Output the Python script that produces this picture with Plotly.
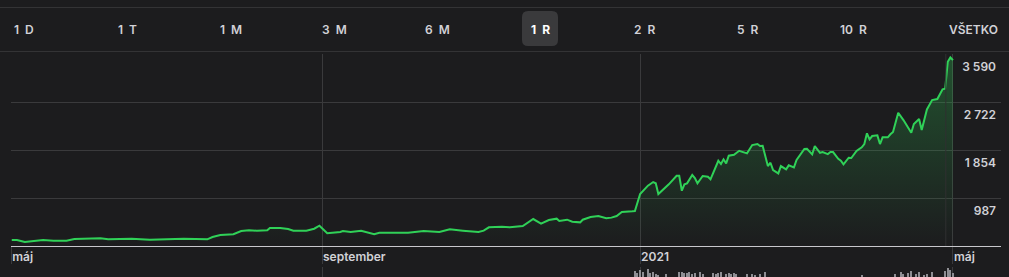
import plotly.graph_objects as go

# ---------------- data ----------------
dates = [
    "2020-05-05", "2020-05-07", "2020-05-10", "2020-05-13", "2020-05-17", "2020-05-21", "2020-05-26", "2020-05-29",
    "2020-06-01", "2020-06-08", "2020-06-11", "2020-06-20", "2020-06-27",
    "2020-07-04", "2020-07-10", "2020-07-19", "2020-07-21", "2020-07-24", "2020-07-29",
    "2020-08-01", "2020-08-04", "2020-08-07", "2020-08-11", "2020-08-12", "2020-08-16", "2020-08-19", "2020-08-21",
    "2020-08-26", "2020-08-29", "2020-08-31",
    "2020-09-03", "2020-09-08", "2020-09-09", "2020-09-12", "2020-09-16", "2020-09-21", "2020-09-23",
    "2020-10-04", "2020-10-10", "2020-10-16", "2020-10-20", "2020-10-25", "2020-10-31",
    "2020-11-02", "2020-11-04", "2020-11-09", "2020-11-12", "2020-11-17", "2020-11-19", "2020-11-21", "2020-11-24",
    "2020-11-27", "2020-11-30",
    "2020-12-01", "2020-12-04", "2020-12-06", "2020-12-09", "2020-12-10", "2020-12-13", "2020-12-16", "2020-12-19",
    "2020-12-21", "2020-12-23", "2020-12-25", "2020-12-29", "2020-12-30",
    "2021-01-01", "2021-01-04", "2021-01-06", "2021-01-07", "2021-01-08", "2021-01-10", "2021-01-12", "2021-01-15",
    "2021-01-16", "2021-01-17", "2021-01-18", "2021-01-19", "2021-01-21", "2021-01-22", "2021-01-23", "2021-01-25",
    "2021-01-27", "2021-01-28", "2021-01-29", "2021-01-31",
    "2021-02-01", "2021-02-02", "2021-02-03", "2021-02-04", "2021-02-06", "2021-02-08", "2021-02-11", "2021-02-13",
    "2021-02-15", "2021-02-16", "2021-02-17", "2021-02-19", "2021-02-20", "2021-02-21", "2021-02-23", "2021-02-24",
    "2021-02-26", "2021-02-27",
    "2021-03-01", "2021-03-02", "2021-03-05", "2021-03-06", "2021-03-08", "2021-03-09", "2021-03-11", "2021-03-12",
    "2021-03-14", "2021-03-15", "2021-03-16", "2021-03-18", "2021-03-19", "2021-03-20", "2021-03-22", "2021-03-23",
    "2021-03-25", "2021-03-27", "2021-03-28", "2021-03-29", "2021-03-30", "2021-03-31",
    "2021-04-02", "2021-04-03", "2021-04-04", "2021-04-06", "2021-04-07", "2021-04-08", "2021-04-10", "2021-04-12",
    "2021-04-15", "2021-04-16", "2021-04-18", "2021-04-19", "2021-04-21", "2021-04-23", "2021-04-25", "2021-04-27",
    "2021-04-28", "2021-04-29", "2021-04-30", "2021-05-01",
]
prices = [
    228, 228, 192, 210, 228, 215, 215, 246,
    251, 259, 240, 251, 233,
    240, 251, 240, 282, 318, 331,
    391, 403, 396, 403, 445, 445, 427, 396, 396, 432, 486,
    349, 372, 391, 372, 396, 331, 360,
    360, 391, 372, 421, 396, 372,
    396, 457, 468, 457, 481, 540, 607, 522, 589, 613,
    571, 595, 559, 547, 595, 644, 662, 620, 632, 662, 734, 746, 752,
    1059, 1210, 1276, 1253, 1059, 1144, 1235, 1390, 1390, 1119, 1235, 1253, 1403, 1349, 1253, 1385, 1372, 1325,
    1444, 1661,
    1602, 1687, 1614, 1752, 1770, 1842, 1795, 1945, 1963, 1927, 1932, 1565, 1625, 1493, 1433, 1565, 1506, 1578,
    1542, 1674, 1873, 1878, 1777, 1927, 1806, 1819, 1782, 1819, 1819, 1697, 1661, 1596, 1716, 1710, 1837, 1903,
    1963, 2157, 2048, 2108,
    2120, 1963, 2084, 2084, 2139, 2180, 2529, 2397, 2167, 2325, 2415, 2216, 2590, 2758, 2777, 2952, 2963, 3451,
    3530, 3482,
]

vol_dates = [
    "2020-12-30", "2020-12-31", "2021-01-01", "2021-01-02", "2021-01-04", "2021-01-05", "2021-01-06", "2021-01-07",
    "2021-01-08", "2021-01-11",
    "2021-01-16", "2021-01-17", "2021-01-18", "2021-01-19", "2021-01-20", "2021-01-21", "2021-01-22", "2021-01-24",
    "2021-01-25",
    "2021-01-29", "2021-01-30", "2021-01-31", "2021-02-01", "2021-02-03", "2021-02-04", "2021-02-05", "2021-02-06",
    "2021-02-07",
    "2021-02-11", "2021-02-13", "2021-02-14", "2021-02-16", "2021-02-18",
    "2021-03-27",
    "2021-04-09", "2021-04-11", "2021-04-12", "2021-04-14", "2021-04-15", "2021-04-17", "2021-04-18", "2021-04-20",
    "2021-04-21", "2021-04-23",
    "2021-04-28", "2021-04-29", "2021-04-30", "2021-05-01",
]
volumes = [
    46, 44, 47, 45, 48, 44, 45, 43, 42, 43,
    45, 45, 44, 44, 45, 43, 44, 45, 43,
    44, 43, 44, 45, 43, 44, 43, 44, 43,
    43, 43, 42, 43, 45,
    42,
    43, 45, 43, 44, 46, 43, 45, 42, 43, 45,
    46, 49, 47, 44,
]

y_ticks = [987, 1854, 2722, 3590]
y_ticktext = ["987", "1 854", "2 722", "3 590"]
x_ticks = ["2020-05-04 19:00", "2020-09-01", "2021-01-01", "2021-05-01"]
x_ticktext = ["máj", "september", "2021", "máj"]
buttons = ["1\u2002D", "1\u2002T", "1\u2002M", "3\u2002M", "6\u2002M", "1\u2002R", "2\u2002R", "5\u2002R",
           "10\u2002R", "VŠETKO"]
selected = "1\u2002R"

# ---------------- layout helpers ----------------
W, H = 1009, 277
L, R, T, B = 11, 8, 54, 0
PW, PH = W - L - R, H - T - B

def px(x):
    return (x - L) / PW

def py(y):
    return (H - B - y) / PH

BG = "#1c1c1e"
GRID = "#3a3a3c"
GREEN = "#30d158"
FONT = "Inter"

fig = go.Figure()

fig.add_trace(go.Scatter(
    x=dates, y=prices, mode="lines",
    line=dict(color=GREEN, width=2),
    fill="tozeroy",
    fillgradient=dict(
        type="vertical",
        start=119, stop=3590,
        colorscale=[[0, "rgba(48,209,88,0.0)"], [1, "rgba(48,209,88,0.30)"]],
    ),
    hoverinfo="skip",
    xaxis="x", yaxis="y",
))

fig.add_trace(go.Bar(
    x=vol_dates, y=volumes, marker=dict(color="#8e8e93", line=dict(width=0)),
    width=45000000, hoverinfo="skip", xaxis="x", yaxis="y2",
))

main_bottom = py(246)

fig.update_layout(
    width=W, height=H,
    margin=dict(l=L, r=R, t=T, b=B, pad=0),
    paper_bgcolor=BG, plot_bgcolor=BG,
    showlegend=False,
    font=dict(family=FONT, size=12, color="#d1d1d6", weight=600),
    xaxis=dict(
        type="date",
        range=["2020-05-04 17:00", "2021-05-19 10:00"],
        tickvals=x_ticks, ticktext=x_ticktext,
        ticks="outside", ticklen=17, tickcolor=GRID, tickwidth=1,
        ticklabelposition="outside right",
        showgrid=True, gridcolor=GRID, gridwidth=1,
        showline=True, linecolor="#c7c7cc", linewidth=1,
        zeroline=False,
        anchor="y",
        tickfont=dict(family=FONT, size=12, color="#d1d1d6", weight=600),
    ),
    yaxis=dict(
        domain=[main_bottom, 1],
        range=[119, 3592],
        side="right",
        tickvals=y_ticks, ticktext=y_ticktext,
        ticklabelposition="inside bottom",
        ticklabelstandoff=2,
        ticklabelshift=4,
        ticks="",
        showgrid=True, gridcolor=GRID, gridwidth=1,
        showline=False, zeroline=False,
        tickfont=dict(family=FONT, size=12, color="#d1d1d6", weight=600),
    ),
    yaxis2=dict(
        domain=[0, 10 / PH],
        range=[40, 49.5],
        visible=False,
        anchor="x",
    ),
    bargap=0,
)

# separator lines above and below the range buttons
shapes = []
for yy in (7.5, 51.5):
    shapes.append(dict(type="line", xref="paper", yref="paper",
                       x0=px(0), x1=px(W), y0=py(yy), y1=py(yy),
                       line=dict(color="#333335", width=1)))

# darker vertical marker line near the end
shapes.append(dict(type="line", xref="x", yref="paper",
                   x0="2021-04-28 06:00", x1="2021-04-28 06:00", y0=main_bottom, y1=1,
                   line=dict(color="#2f2f31", width=1)))

# rounded selection box
x0, x1, y0, y1, r = 522, 558, 11, 46, 6
pts = [
    f"M {px(x0 + r)},{py(y0)}",
    f"L {px(x1 - r)},{py(y0)}",
    f"Q {px(x1)},{py(y0)} {px(x1)},{py(y0 + r)}",
    f"L {px(x1)},{py(y1 - r)}",
    f"Q {px(x1)},{py(y1)} {px(x1 - r)},{py(y1)}",
    f"L {px(x0 + r)},{py(y1)}",
    f"Q {px(x0)},{py(y1)} {px(x0)},{py(y1 - r)}",
    f"L {px(x0)},{py(y0 + r)}",
    f"Q {px(x0)},{py(y0)} {px(x0 + r)},{py(y0)}",
    "Z",
]
shapes.append(dict(type="path", xref="paper", yref="paper", path=" ".join(pts),
                   fillcolor="#3a3a3c", line=dict(width=0), layer="below"))
fig.update_layout(shapes=shapes)

# range buttons
centers = [24, 127.5, 231, 334, 437.5, 540.5, 644, 747.5, 853.5, 973.5]
for label, cx in zip(buttons, centers):
    sel = label == selected
    fig.add_annotation(
        text=label, x=px(cx), y=py(29.5), xref="paper", yref="paper",
        xanchor="center", yanchor="middle", showarrow=False,
        font=dict(family=FONT, size=12, color="#ffffff" if sel else "#d1d1d6",
                  weight=700 if sel else 600),
    )

fig.write_html("out.html", config={"displayModeBar": False})
